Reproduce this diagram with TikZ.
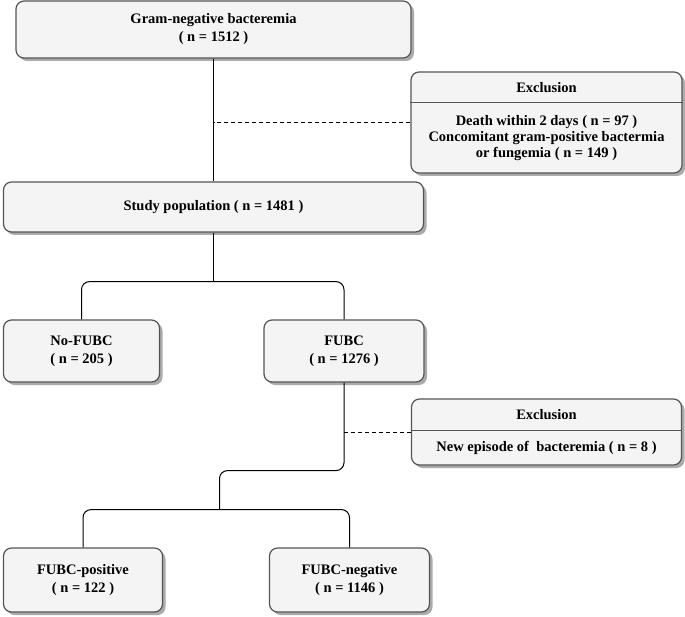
\documentclass[tikz,border=0pt]{standalone}
\usepackage{fontspec}
\setmainfont{Liberation Serif}
\usepackage{tikz}
\usetikzlibrary{shapes,shadows,calc,positioning}
\definecolor{boxfill}{HTML}{F4F4F4}
\definecolor{boxline}{HTML}{555555}
\definecolor{boxshade}{HTML}{ABABAB}
\tikzstyle{box} = [draw=boxline, line width=1.2pt, rectangle, fill=boxfill, rounded corners=8pt, align=center, font=\bfseries\fontsize{14.5}{18}\selectfont, drop shadow={shadow xshift=3pt, shadow yshift=-3pt, fill=boxshade, opacity=1}]
\tikzstyle{exclbox} = [box, minimum width=271pt]
\tikzstyle{part} = [rectangle, inner sep=0pt, align=center, font=\bfseries\fontsize{14.5}{16}\selectfont, minimum width=271pt]
\tikzstyle{divider} = [draw=boxline, line width=1.2pt]
\tikzstyle{line} = [draw, line width=1pt]
\tikzstyle{dline} = [draw, line width=1pt, dash pattern=on 4pt off 3pt]

\begin{document}
\begin{tikzpicture}[auto, node distance=10em]
	\useasboundingbox (0,0) rectangle (685pt,-617pt);
	\node [box, minimum width=395pt, minimum height=57pt] at (213.5pt,-29.5pt) (gram) {Gram-negative bacteremia\\( n = 1512 )};
	\node [exclbox, below of=gram, node distance=93pt, xshift=333pt, minimum height=101pt] (excl1) {};
	\node [part, anchor=north, minimum height=31pt] at (excl1.north) (head1) {Exclusion};
	\node [part, below=0pt of head1, minimum height=70pt] (body1) {Death within 2 days ( n = 97 )\\Concomitant gram-positive bactermia\\or fungemia ( n = 149 )};
	\node [box, below of=gram, node distance=177.5pt, minimum width=420pt, minimum height=50pt] (study) {Study population ( n = 1481 )};
	\node [box, below of=study, node distance=144pt, xshift=-132pt, minimum width=156pt, minimum height=62pt] (nofubc) {No-FUBC\\( n = 205 )};
	\node [box, below of=study, node distance=144pt, xshift=130.5pt, minimum width=160pt, minimum height=62pt] (fubc) {FUBC\\( n = 1276 )};
	\node [exclbox, below of=fubc, node distance=81pt, xshift=202.5pt, minimum width=270pt, minimum height=66pt] (excl2) {};
	\node [part, anchor=north, minimum height=32pt] at (excl2.north) (head2) {Exclusion};
	\node [part, below=0pt of head2, minimum height=34pt] (body2) {New episode of \ bacteremia ( n = 8 )};
	\node [box, below of=fubc, node distance=229pt, xshift=-261pt, minimum width=159pt, minimum height=64pt] (fpos) {FUBC-positive\\( n = 122 )};
	\node [box, below of=fubc, node distance=229pt, xshift=5.5pt, minimum width=160pt, minimum height=64pt] (fneg) {FUBC-negative\\( n = 1146 )};

	\coordinate (split1) at ($(study.south)+(0,-49pt)$);
	\coordinate (split2) at ($(fubc.south)+(-124.5pt,-127pt)$);

	\path [divider] (excl1.west |- head1.south) -- (excl1.east |- head1.south);
	\path [divider] (excl2.west |- head2.south) -- (excl2.east |- head2.south);

	\path [line] (gram.south) -- (gram.south |- study.north);
	\path [dline] (excl1.west) -- (excl1.west -| gram.south);
	\path [line] (study.south) -- (split1);
	\path [line, rounded corners=8pt] (split1) -| (nofubc.north);
	\path [line, rounded corners=8pt] (split1) -| (fubc.north);
	\path [line, rounded corners=8pt] (fubc.south) -- ++(0,-88pt) -| (split2);
	\path [dline] (excl2.west) -- (excl2.west -| fubc.south);
	\path [line, rounded corners=8pt] (split2) -| (fpos.north);
	\path [line, rounded corners=8pt] (split2) -| (fneg.north);
\end{tikzpicture}
\end{document}
